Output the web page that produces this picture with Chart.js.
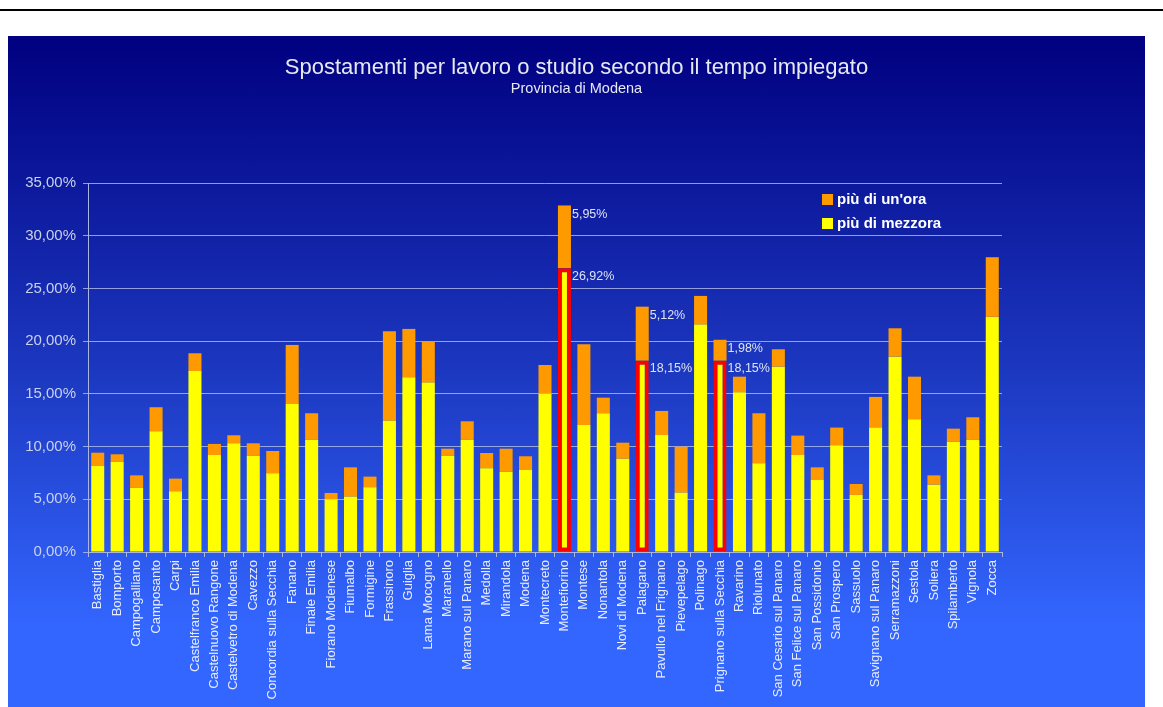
<!DOCTYPE html>
<html>
<head>
<meta charset="utf-8">
<script src="https://cdn.jsdelivr.net/npm/chart.js@4.4.0/dist/chart.umd.min.js"></script>
<style>
    html, body { margin: 0; padding: 0; background: #fff; }
    body { width: 1163px; height: 707px; position: relative; overflow: hidden; }
    .topline { position: absolute; left: 0; top: 9px; width: 1163px; height: 2px; background: #000; }
    .panel {
        position: absolute; left: 8px; top: 36px; width: 1137px; height: 671px;
        background: linear-gradient(#000080 0%, #1c38c0 50%, #3366ff 88%, #3366ff 100%);
    }
    canvas { display: block; }
</style>
</head>
<body>
<div class="topline"></div>
<div class="panel">
    <canvas id="chart" width="1137" height="671"></canvas>
</div>
<script>
const comuni = [
    "Bastiglia", "Bomporto", "Campogalliano", "Camposanto", "Carpi",
    "Castelfranco Emilia", "Castelnuovo Rangone", "Castelvetro di Modena", "Cavezzo",
    "Concordia sulla Secchia", "Fanano", "Finale Emilia", "Fiorano Modenese", "Fiumalbo",
    "Formigine", "Frassinoro", "Guiglia", "Lama Mocogno", "Maranello", "Marano sul Panaro",
    "Medolla", "Mirandola", "Modena", "Montecreto", "Montefiorino", "Montese", "Nonantola",
    "Novi di Modena", "Palagano", "Pavullo nel Frignano", "Pievepelago", "Polinago",
    "Prignano sulla Secchia", "Ravarino", "Riolunato", "San Cesario sul Panaro",
    "San Felice sul Panaro", "San Possidonio", "San Prospero", "Sassuolo",
    "Savignano sul Panaro", "Serramazzoni", "Sestola", "Soliera", "Spilamberto",
    "Vignola", "Zocca"
];

// più di mezzora (%)
const mezzora = [
    8.16, 8.54, 6.10, 11.45, 5.76, 17.17, 9.20, 10.31, 9.11, 7.46,
    14.04, 10.63, 5.00, 5.25, 6.13, 12.46, 16.57, 16.07, 9.11, 10.63,
    7.94, 7.62, 7.78, 15.02, 26.92, 12.05, 13.16, 8.85, 18.15, 11.10,
    5.63, 21.57, 18.15, 15.15, 8.41, 17.58, 9.20, 6.83, 10.12, 5.41,
    11.80, 18.53, 12.59, 6.39, 10.44, 10.63, 22.30
];

// più di un'ora (%)
const unora = [
    1.26, 0.73, 1.17, 2.28, 1.20, 1.68, 1.05, 0.76, 1.20, 2.12,
    5.60, 2.53, 0.60, 2.78, 1.02, 8.48, 4.59, 3.85, 0.69, 1.77,
    1.45, 2.18, 1.30, 2.72, 5.95, 7.65, 1.48, 1.52, 5.12, 2.28,
    4.36, 2.72, 1.98, 1.48, 4.75, 1.65, 1.84, 1.20, 1.68, 1.04,
    2.91, 2.69, 4.04, 0.88, 1.26, 2.15, 5.66
];

const evidenziati = ["Montefiorino", "Palagano", "Prignano sulla Secchia"];
const yTicks = [0, 5, 10, 15, 20, 25, 30, 35];

const fmt = v => v.toFixed(2).replace(".", ",") + "%";
const isHi = i => evidenziati.includes(comuni[i]);

// titolo, legenda ed etichette dei comuni evidenziati
const decorPlugin = {
    id: "decor",
    afterDraw(chart) {
        const ctx = chart.ctx;
        const area = chart.chartArea;
        const cx = chart.width / 2;
        ctx.save();
        ctx.fillStyle = "#e6e8f2";
        ctx.textAlign = "center";
        ctx.textBaseline = "middle";
        ctx.font = "22px 'Liberation Sans', Arial, sans-serif";
        ctx.fillText("Spostamenti per lavoro o studio secondo il tempo impiegato", cx, 32);
        ctx.font = "14.5px 'Liberation Sans', Arial, sans-serif";
        ctx.fillText("Provincia di Modena", cx, 53);

        // legenda (ordine inverso, come l'originale)
        const items = [chart.data.datasets[1], chart.data.datasets[0]];
        ctx.textAlign = "left";
        ctx.font = "bold 15px 'Liberation Sans', Arial, sans-serif";
        items.forEach((ds, k) => {
            const lx = area.right - 180;
            const ly = area.top + 11 + k * 24;
            ctx.fillStyle = ds.backgroundColor;
            ctx.fillRect(lx, ly, 11, 11);
            ctx.fillStyle = "#ffffff";
            ctx.fillText(ds.label, lx + 15, ly + 5.5);
        });

        // etichette valori
        ctx.font = "12.5px 'Liberation Sans', Arial, sans-serif";
        ctx.fillStyle = "#dde3f5";
        const m0 = chart.getDatasetMeta(0);
        const m1 = chart.getDatasetMeta(1);
        comuni.forEach((c, i) => {
            if (!isHi(i)) return;
            const b0 = m0.data[i];
            const b1 = m1.data[i];
            const xr = b0.x + b0.width / 2 + 1;
            ctx.fillText(fmt(unora[i]), xr, b1.y + 9);
            ctx.fillText(fmt(mezzora[i]), xr, b0.y + 8);
        });
        ctx.restore();
    }
};

const ctx = document.getElementById("chart").getContext("2d");
new Chart(ctx, {
    type: "bar",
    data: {
        labels: comuni,
        datasets: [
            {
                label: "più di mezzora",
                data: mezzora,
                backgroundColor: "#ffff00",
                borderColor: comuni.map((c, i) => isHi(i) ? "#ff0000" : "#ffff00"),
                borderWidth: comuni.map((c, i) => isHi(i) ? 4 : 0),
                borderSkipped: false,
            },
            {
                label: "più di un'ora",
                data: unora,
                backgroundColor: "#ff9900",
                borderWidth: 0,
            },
        ],
    },
    options: {
        responsive: false,
        animation: false,
        layout: { padding: { left: 0, right: 143, top: 147, bottom: 0 } },
        datasets: { bar: { barPercentage: 0.67, categoryPercentage: 1 } },
        plugins: {
            legend: { display: false },
            tooltip: { enabled: false },
        },
        scales: {
            x: {
                stacked: true,
                afterFit: s => { s.height = 155; },
                grid: { display: true, drawOnChartArea: false, color: "#a9b6e0", tickLength: 5 },
                border: { color: "#a9b6e0" },
                ticks: {
                    autoSkip: false,
                    maxRotation: 90,
                    minRotation: 90,
                    padding: 3,
                    color: "#e8ecff",
                    font: { family: "'Liberation Sans', Arial, sans-serif", size: 13 },
                },
            },
            y: {
                stacked: true,
                min: 0,
                max: 35,
                afterFit: s => { s.width = 80; },
                afterBuildTicks: s => { s.ticks = yTicks.map(v => ({ value: v })); },
                grid: { color: "rgba(190,200,235,0.75)", tickLength: 5, lineWidth: 1 },
                border: { color: "#a9b6e0" },
                ticks: {
                    padding: 7,
                    color: "#c9d1ec",
                    font: { family: "'Liberation Sans', Arial, sans-serif", size: 15 },
                    callback: v => fmt(v),
                },
            },
        },
    },
    plugins: [decorPlugin],
});
</script>
</body>
</html>
